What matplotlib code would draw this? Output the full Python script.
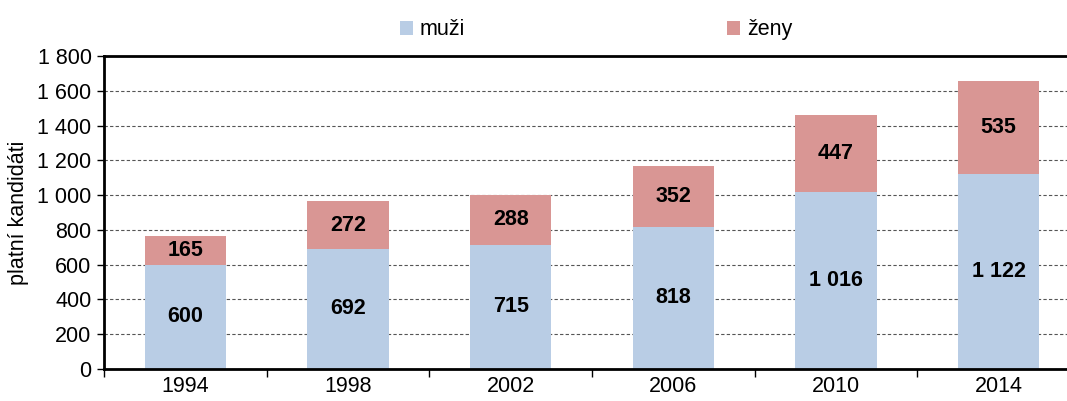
import matplotlib.pyplot as plt
import numpy as np
from matplotlib.ticker import FuncFormatter, FixedLocator

plt.rcParams["font.family"] = ["Liberation Sans", "DejaVu Sans"]

years = ["1994", "1998", "2002", "2006", "2010", "2014"]
muzi = [600, 692, 715, 818, 1016, 1122]
zeny = [165, 272, 288, 352, 447, 535]

MUZI_COLOR = "#B9CDE5"
ZENY_COLOR = "#D99694"
FS = 15.5


def thousands(v, pos=None):
    return f"{int(v):,}".replace(",", " ")


fig = plt.figure(figsize=(10.67, 4.01), dpi=100)
ax = fig.add_axes([104 / 1067, 32 / 401, 976 / 1067, 313 / 401])

x = np.arange(len(years))
b1 = ax.bar(x, muzi, width=0.5, color=MUZI_COLOR, label="muži", zorder=2)
b2 = ax.bar(x, zeny, width=0.5, bottom=muzi, color=ZENY_COLOR, label="ženy", zorder=2)

for bars, vals in ((b1, muzi), (b2, zeny)):
    for rect, v in zip(bars, vals):
        ax.text(rect.get_x() + rect.get_width() / 2, rect.get_y() + rect.get_height() / 2,
                thousands(v), ha="center", va="center", fontsize=FS, fontweight="bold", zorder=3)

ax.set_xlim(-0.5, len(years) - 0.5)
ax.set_ylim(0, 1800)
ax.set_yticks(np.arange(0, 1801, 200))
ax.yaxis.set_major_formatter(FuncFormatter(thousands))
ax.set_xticks(x)
ax.set_xticklabels(years)
ax.xaxis.set_minor_locator(FixedLocator(np.arange(-0.5, len(years), 1)))
ax.tick_params(axis="x", which="major", length=0, labelsize=FS, pad=5)
ax.tick_params(axis="x", which="minor", length=6, width=1, direction="out")
ax.tick_params(axis="y", length=5, width=1, labelsize=FS, pad=4)

ax.grid(axis="y", linestyle=(0, (3, 2)), color="#555555", linewidth=0.8, zorder=1)
for s in ["left", "bottom", "top"]:
    ax.spines[s].set_linewidth(2)
    ax.spines[s].set_color("black")
ax.spines["right"].set_visible(False)

ax.set_ylabel("platní kandidáti", fontsize=FS, labelpad=6)

fig.legend(handles=[b1, b2], loc="upper center", bbox_to_anchor=(596 / 1067, 1.0),
           ncol=2, frameon=False, fontsize=FS, handlelength=0.6, handleheight=0.6,
           handletextpad=0.3, columnspacing=12.2)

fig.savefig("out.png", dpi=100)
